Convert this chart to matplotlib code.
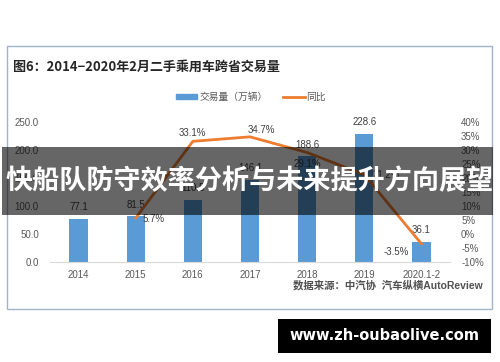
import matplotlib
matplotlib.use('Agg')
import matplotlib.pyplot as plt
import matplotlib.patches as mpatches
from matplotlib.lines import Line2D

plt.rcParams['font.family'] = ['Liberation Sans', 'Noto Sans CJK SC']

############### data ################
years = ['2014', '2015', '2016', '2017', '2018', '2019', '2020.1-2']
volume = [77.1, 81.5, 110.5, 146.1, 188.6, 228.6, 36.1]   # 交易量（万辆）
yoy_years = years[1:]
yoy = [5.7, 33.1, 34.7, 29.1, 21.2, -3.5]                # 同比 %
yoy_offsets = [(5, -1, 'left'), (0, 6, 'center'), (8, 5, 'center'),
               (0, -8, 'center'), (6, 0, 'left'), (-9, -6, 'right')]
left_ticks = [0, 50, 100, 150, 200, 250]
right_ticks = [-10, -5, 0, 5, 10, 15, 20, 25, 30, 35, 40]

BLUE = '#5B9BD5'
ORANGE = '#ED7D31'
GRAY = '#595959'

############## figure ###############
fig = plt.figure(figsize=(5, 3.62), dpi=100)
W, H = 500, 362

def box(x0, y0, x1, y1):
    # pixel box (top-left origin) -> figure fraction
    return [x0 / W, 1 - y1 / H, (x1 - x0) / W, (y1 - y0) / H]

# chart frame
frame = mpatches.Rectangle((7 / W, 1 - 309 / H), 485 / W, 263 / H, transform=fig.transFigure,
                           facecolor='white', edgecolor='#9FB4CA', linewidth=1)
fig.patches.append(frame)

fig.text(13 / W, 1 - 67 / H, '图6：2014−2020年2月二手乘用车跨省交易量', fontsize=9.4,
         fontweight='bold', color='#262626', va='center', ha='left',
         family=['Noto Sans CJK SC', 'DejaVu Sans'])

ax = fig.add_axes(box(50, 122, 450, 262))
ax.set_zorder(2)
ax.patch.set_visible(False)
x = list(range(len(years)))
bars = ax.bar(x, volume, width=0.32, color=BLUE, zorder=2)
for xi, v in zip(x, volume):
    ax.annotate(f'{v:.1f}', (xi, v), xytext=(0, 8.5), textcoords='offset points',
                ha='center', va='center', fontsize=7, color='#404040')
ax.set_xlim(-0.5, 6.5)
ax.set_ylim(0, 250)
ax.set_yticks(left_ticks)
ax.set_yticklabels([f'{t:.1f}' for t in left_ticks])
ax.set_xticks(x)
ax.set_xticklabels(years)
ax.tick_params(axis='both', length=0, labelsize=7, labelcolor=GRAY)
ax.tick_params(axis='y', pad=8)
ax.tick_params(axis='x', pad=6)
for s in ['top', 'left', 'right']:
    ax.spines[s].set_visible(False)
ax.spines['bottom'].set_color('#D9D9D9')

ax2 = ax.twinx()
ax2.set_zorder(3)
xl = [years.index(y) for y in yoy_years]
ax2.plot(xl, yoy, color=ORANGE, linewidth=2, solid_joinstyle='round')
for xi, v, (dx, dy, ha) in zip(xl, yoy, yoy_offsets):
    ax2.annotate(f'{v:.1f}%', (xi, v), xytext=(dx, dy), textcoords='offset points',
                 ha=ha, va='center', fontsize=7, color='#404040')
ax2.set_ylim(-10, 40)
ax2.set_yticks(right_ticks)
ax2.set_yticklabels([f'{t}%' for t in right_ticks])
ax2.tick_params(axis='y', length=0, labelsize=7, labelcolor=GRAY, pad=8)
for s in ax2.spines.values():
    s.set_visible(False)

handles = [mpatches.Patch(color=BLUE), Line2D([0], [0], color=ORANGE, linewidth=2)]
fig.legend(handles, ['交易量（万辆）', '同比'], loc='center', bbox_to_anchor=(251 / W, 1 - 97 / H),
           ncol=2, frameon=False, fontsize=7, handlelength=2.2, handleheight=0.5,
           columnspacing=1.6, handletextpad=0.2, labelcolor=GRAY)

fig.text(483 / W, 1 - 285 / H, '数据来源：中汽协  汽车纵横AutoReview', fontsize=7.5,
         color='#505050', ha='right', va='center', fontweight='bold')

# overlay banner
band = mpatches.Rectangle((2 / W, 1 - 215 / H), 491 / W, 68 / H, transform=fig.transFigure,
                          facecolor='black', alpha=0.6, edgecolor='none', zorder=10)
fig.patches.append(band)
fig.text(250 / W, 1 - 181 / H, '快船队防守效率分析与未来提升方向展望', fontsize=19.5,
         fontweight='bold', color='white', ha='center', va='center', zorder=11,
         family=['Noto Sans CJK SC', 'DejaVu Sans'])

# watermark
wm = mpatches.Rectangle((278 / W, 1 - 353 / H), 213 / W, 34 / H, transform=fig.transFigure,
                        facecolor='black', edgecolor='none', zorder=10)
fig.patches.append(wm)
fig.text(384.5 / W, 1 - 336 / H, 'www.zh-oubaolive.com', fontsize=10.5, fontweight='bold',
         color='white', ha='center', va='center', zorder=11, family='DejaVu Sans')

fig.savefig('out.png', dpi=100)
